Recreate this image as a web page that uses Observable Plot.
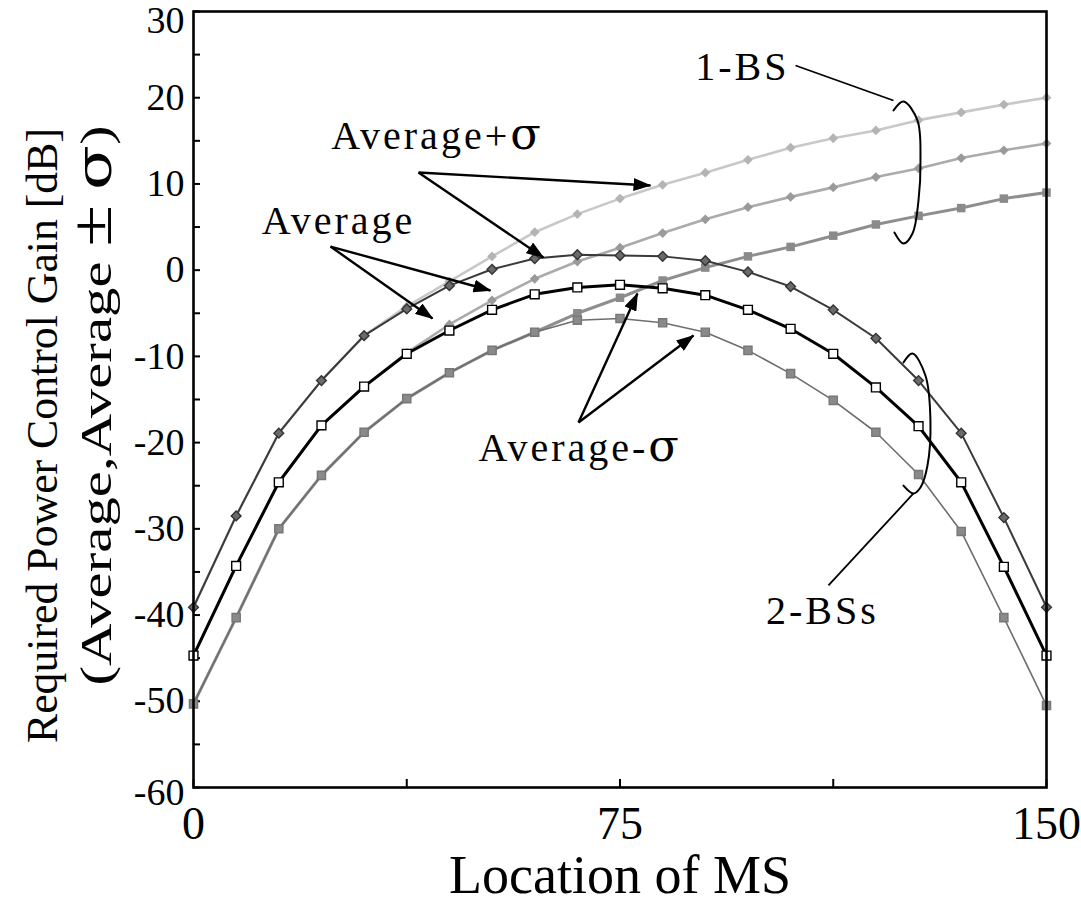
<!DOCTYPE html>
<html><head><meta charset="utf-8">
<script src="https://cdn.jsdelivr.net/npm/d3@7"></script>
<script src="https://cdn.jsdelivr.net/npm/@observablehq/plot@0.6"></script>
<style>
html,body{margin:0;padding:0;background:#fff;}
#chart{width:1081px;height:913px;overflow:hidden;}
</style></head><body><div id="chart"></div>
<script>
// ---- data ----
const locationMS = [0, 7.5, 15, 22.5, 30, 37.5, 45, 52.5, 60, 67.5, 75, 82.5, 90, 97.5, 105, 112.5, 120, 127.5, 135, 142.5, 150];
const bs1Plus  = [-39.1, -28.5, -18.9, -12.8, -7.6, -4.2, -1.3, 1.6, 4.4, 6.5, 8.3, 9.9, 11.3, 12.8, 14.2, 15.3, 16.2, 17.4, 18.3, 19.2, 20.0];
const bs1Avg   = [-44.7, -34.3, -24.6, -18.0, -13.5, -9.6, -6.3, -3.5, -1.0, 1.0, 2.6, 4.3, 5.9, 7.3, 8.5, 9.6, 10.8, 11.8, 13.0, 13.9, 14.7];
const bs1Minus = [-50.3, -40.3, -30.0, -23.8, -18.8, -14.9, -11.9, -9.3, -7.2, -5.0, -3.2, -1.2, 0.3, 1.6, 2.7, 4.0, 5.3, 6.3, 7.2, 8.3, 9.0];
const bs2Plus  = [-39.1, -28.5, -18.9, -12.8, -7.6, -4.5, -1.8, 0.1, 1.35, 1.8, 1.7, 1.6, 1.1, -0.2, -1.9, -4.6, -7.9, -12.8, -18.9, -28.7, -39.1];
const bs2Avg   = [-44.7, -34.3, -24.6, -18.0, -13.5, -9.7, -7.0, -4.6, -2.8, -2.0, -1.7, -2.1, -2.9, -4.6, -6.8, -9.7, -13.6, -18.1, -24.6, -34.4, -44.7];
const bs2Minus = [-50.3, -40.3, -30.0, -23.8, -18.8, -14.9, -11.9, -9.3, -7.2, -5.8, -5.6, -6.1, -7.2, -9.3, -12.0, -15.1, -18.8, -23.7, -30.3, -40.3, -50.5];

const yTickLabels = [-60, -50, -40, -30, -20, -10, 0, 10, 20, 30];
const yMinorTicks = [-60, -55, -50, -45, -40, -35, -30, -25, -20, -15, -10, -5, 0, 5, 10, 15, 20, 25, 30];
const xTickLabels = [0, 75, 150];
const xMinorTicks = [0, 37.5, 75, 112.5, 150];

const xTitle = "Location of MS";
const yTitle1 = "Required Power Control Gain [dB]";
const yTitle2 = "(Average,Average ± σ)";

// annotations (data units)
const noteText = ["Average+σ", "Average", "Average-σ", "1-BS", "2-BSs"];
const noteX = [42.9, 25.5, 68.0, 96.5, 110.6];
const noteY = [14.1, 4.25, -22.1, 22.0, -41.0];

const arrowX1 = [39.56, 39.56, 24.09, 24.09, 67.70, 67.70];
const arrowY1 = [11.33, 11.33, 2.74, 2.74, -17.67, -17.67];
const arrowX2 = [61.54, 80.36, 52.22, 42.03, 78.07, 87.92];
const arrowY2 = [1.47, 9.82, -2.36, -5.61, -2.71, -7.58];

const leaderX1 = [105.86, 126.61];
const leaderY1 = [23.74, -25.90];
const leaderX2 = [123.09, 111.66];
const leaderY2 = [19.68, -36.57];

const brace1X = [123.09, 124.85, 127.31, 127.84, 127.49, 126.44, 124.85, 123.26];
const brace1Y = [18.52, 19.56, 17.36, 12.72, 8.08, 4.25, 3.09, 4.37];
const brace2X = [124.85, 126.43, 128.71, 129.59, 129.07, 127.84, 126.61, 124.85];
const brace2Y = [-10.71, -9.67, -12.22, -17.44, -22.66, -25.21, -25.90, -24.98];

// ---- build tables ----
const seriesDefs = [
  {values: bs1Plus,  stroke: "#c8c8c8", width: 2.6, symbol: "diamond2", r: 4.4, fill: "#b4b4b4", dotStroke: "none"},
  {values: bs1Avg,   stroke: "#ababab", width: 2.6, symbol: "diamond2", r: 4.4, fill: "#9a9a9a", dotStroke: "none"},
  {values: bs1Minus, stroke: "#8e8e8e", width: 3,   symbol: "square",   r: 4.8, fill: "#8a8a8a", dotStroke: "none"},
  {values: bs2Plus,  stroke: "#3a3a3a", width: 2,   symbol: "diamond2", r: 4.4, fill: "#6a6a6a", dotStroke: "#333"},
  {values: bs2Avg,   stroke: "#000000", width: 3,   symbol: "square",   r: 5.0, fill: "#ffffff", dotStroke: "#000"},
  {values: bs2Minus, stroke: "#6e6e6e", width: 1.6, symbol: "square",   r: 4.6, fill: "#8a8a8a", dotStroke: "#777"}
];
const seriesMarks = seriesDefs.flatMap(s => {
  const rows = locationMS.map((x, i) => ({x, y: s.values[i]}));
  return [
    Plot.line(rows, {x: "x", y: "y", stroke: s.stroke, strokeWidth: s.width}),
    Plot.dot(rows, {x: "x", y: "y", symbol: s.symbol, r: s.r, fill: s.fill, stroke: s.dotStroke, strokeWidth: 1.4})
  ];
});

const notes = noteText.map((t, i) => ({t, x: noteX[i], y: noteY[i]}));
const arrows = arrowX1.map((_, i) => ({x1: arrowX1[i], y1: arrowY1[i], x2: arrowX2[i], y2: arrowY2[i]}));
const leaders = leaderX1.map((_, i) => ({x1: leaderX1[i], y1: leaderY1[i], x2: leaderX2[i], y2: leaderY2[i]}));
const brace1 = brace1X.map((x, i) => ({x, y: brace1Y[i]}));
const brace2 = brace2X.map((x, i) => ({x, y: brace2Y[i]}));

// marker colours used to find groups after rendering
const ARROW_INK = "#010101";
const NOTE_INK = "#020202";
const YT1_INK = "#030303";
const YT2_INK = "#040404";

const chart = Plot.plot({
  width: 1081, height: 913,
  marginLeft: 193, marginRight: 35, marginTop: 11, marginBottom: 126,
  x: {domain: [0, 150]},
  y: {domain: [-60, 30]},
  style: {fontFamily: '"Liberation Serif", "Times New Roman", serif', background: "#fff", color: "#000"},
  marks: [
    Plot.axisY(yTickLabels.filter(d => d > -60 && d < 30), {tickSize: 0, tickPadding: 9, fontSize: 38, tickFormat: d => String(d), label: null}),
    Plot.axisY(yTickLabels.filter(d => d === 30), {tickSize: 0, tickPadding: 9, dy: 9, fontSize: 38, tickFormat: d => String(d), label: null}),
    Plot.axisY(yTickLabels.filter(d => d === -60), {tickSize: 0, tickPadding: 9, dy: 5, fontSize: 38, tickFormat: d => String(d), label: null}),
    Plot.axisY(yMinorTicks, {tickSize: -7, tickFormat: () => "", label: null, strokeWidth: 2}),
    Plot.axisX(xTickLabels, {tickSize: 0, tickPadding: 19, fontSize: 46, tickFormat: d => String(d), label: null}),
    Plot.axisX(xMinorTicks, {tickSize: -8, tickFormat: () => "", label: null, strokeWidth: 2}),
    ...seriesMarks,
    Plot.frame({stroke: "#000", strokeWidth: 2.6}),
    Plot.link(arrows, {x1: "x1", y1: "y1", x2: "x2", y2: "y2", stroke: ARROW_INK, strokeWidth: 2.4}),
    Plot.link(leaders, {x1: "x1", y1: "y1", x2: "x2", y2: "y2", stroke: "#000", strokeWidth: 1.8}),
    Plot.line(brace1, {x: "x", y: "y", curve: "catmull-rom", stroke: "#000", strokeWidth: 2}),
    Plot.line(brace2, {x: "x", y: "y", curve: "catmull-rom", stroke: "#000", strokeWidth: 2}),
    Plot.text(notes, {x: "x", y: "y", text: "t", fontSize: 40, lineAnchor: "bottom", textAnchor: "middle", fill: NOTE_INK}),
    Plot.text([xTitle], {text: d => d, frameAnchor: "bottom", dy: 105, lineAnchor: "bottom", textAnchor: "middle", fontSize: 54, fill: "#000"}),
    Plot.text([yTitle1], {text: d => d, frameAnchor: "left", textAnchor: "middle", rotate: -90, dx: -151, dy: 36, fontSize: 44, fill: YT1_INK}),
    Plot.text([yTitle2], {text: d => d, frameAnchor: "left", textAnchor: "middle", rotate: -90, dx: -97, dy: 6, fontSize: 45, fill: YT2_INK})
  ]
});

const svg = d3.select(chart);

// arrowheads: filled triangles
const defs = svg.insert("defs", ":first-child");
defs.append("marker")
  .attr("id", "ahead").attr("viewBox", "0 0 18 13").attr("refX", 17).attr("refY", 6.5)
  .attr("markerWidth", 18).attr("markerHeight", 13).attr("markerUnits", "userSpaceOnUse").attr("orient", "auto")
  .append("path").attr("d", "M0,0L18,6.5L0,13Z").attr("fill", "#000");
svg.selectAll(`g[stroke="${ARROW_INK}"] path`).attr("marker-end", "url(#ahead)");

// letter spacing for annotation texts
svg.selectAll(`g[fill="${NOTE_INK}"] text`).style("letter-spacing", "3px");

// larger sigma / plus-minus glyphs
svg.selectAll("text").each(function () {
  const t = this.textContent;
  if (!/[σ±]/.test(t) || this.querySelector("tspan")) return;
  const el = d3.select(this);
  el.text(null);
  for (const part of t.split(/([σ±])/)) {
    if (!part) continue;
    const ts = el.append("tspan").text(part);
    if (part === "σ") ts.attr("font-size", "1.12em").attr("font-family", '"DejaVu Serif", serif');
    if (part === "±") ts.attr("font-size", "1.3em");
  }
});

// stretch the rotated y titles along their length, as in the reference
svg.selectAll(`g[fill="${YT1_INK}"] text`).attr("textLength", 615).attr("lengthAdjust", "spacingAndGlyphs");
svg.selectAll(`g[fill="${YT2_INK}"] text`).attr("textLength", 560).attr("lengthAdjust", "spacingAndGlyphs");

document.getElementById("chart").appendChild(chart);
</script>
</body></html>
